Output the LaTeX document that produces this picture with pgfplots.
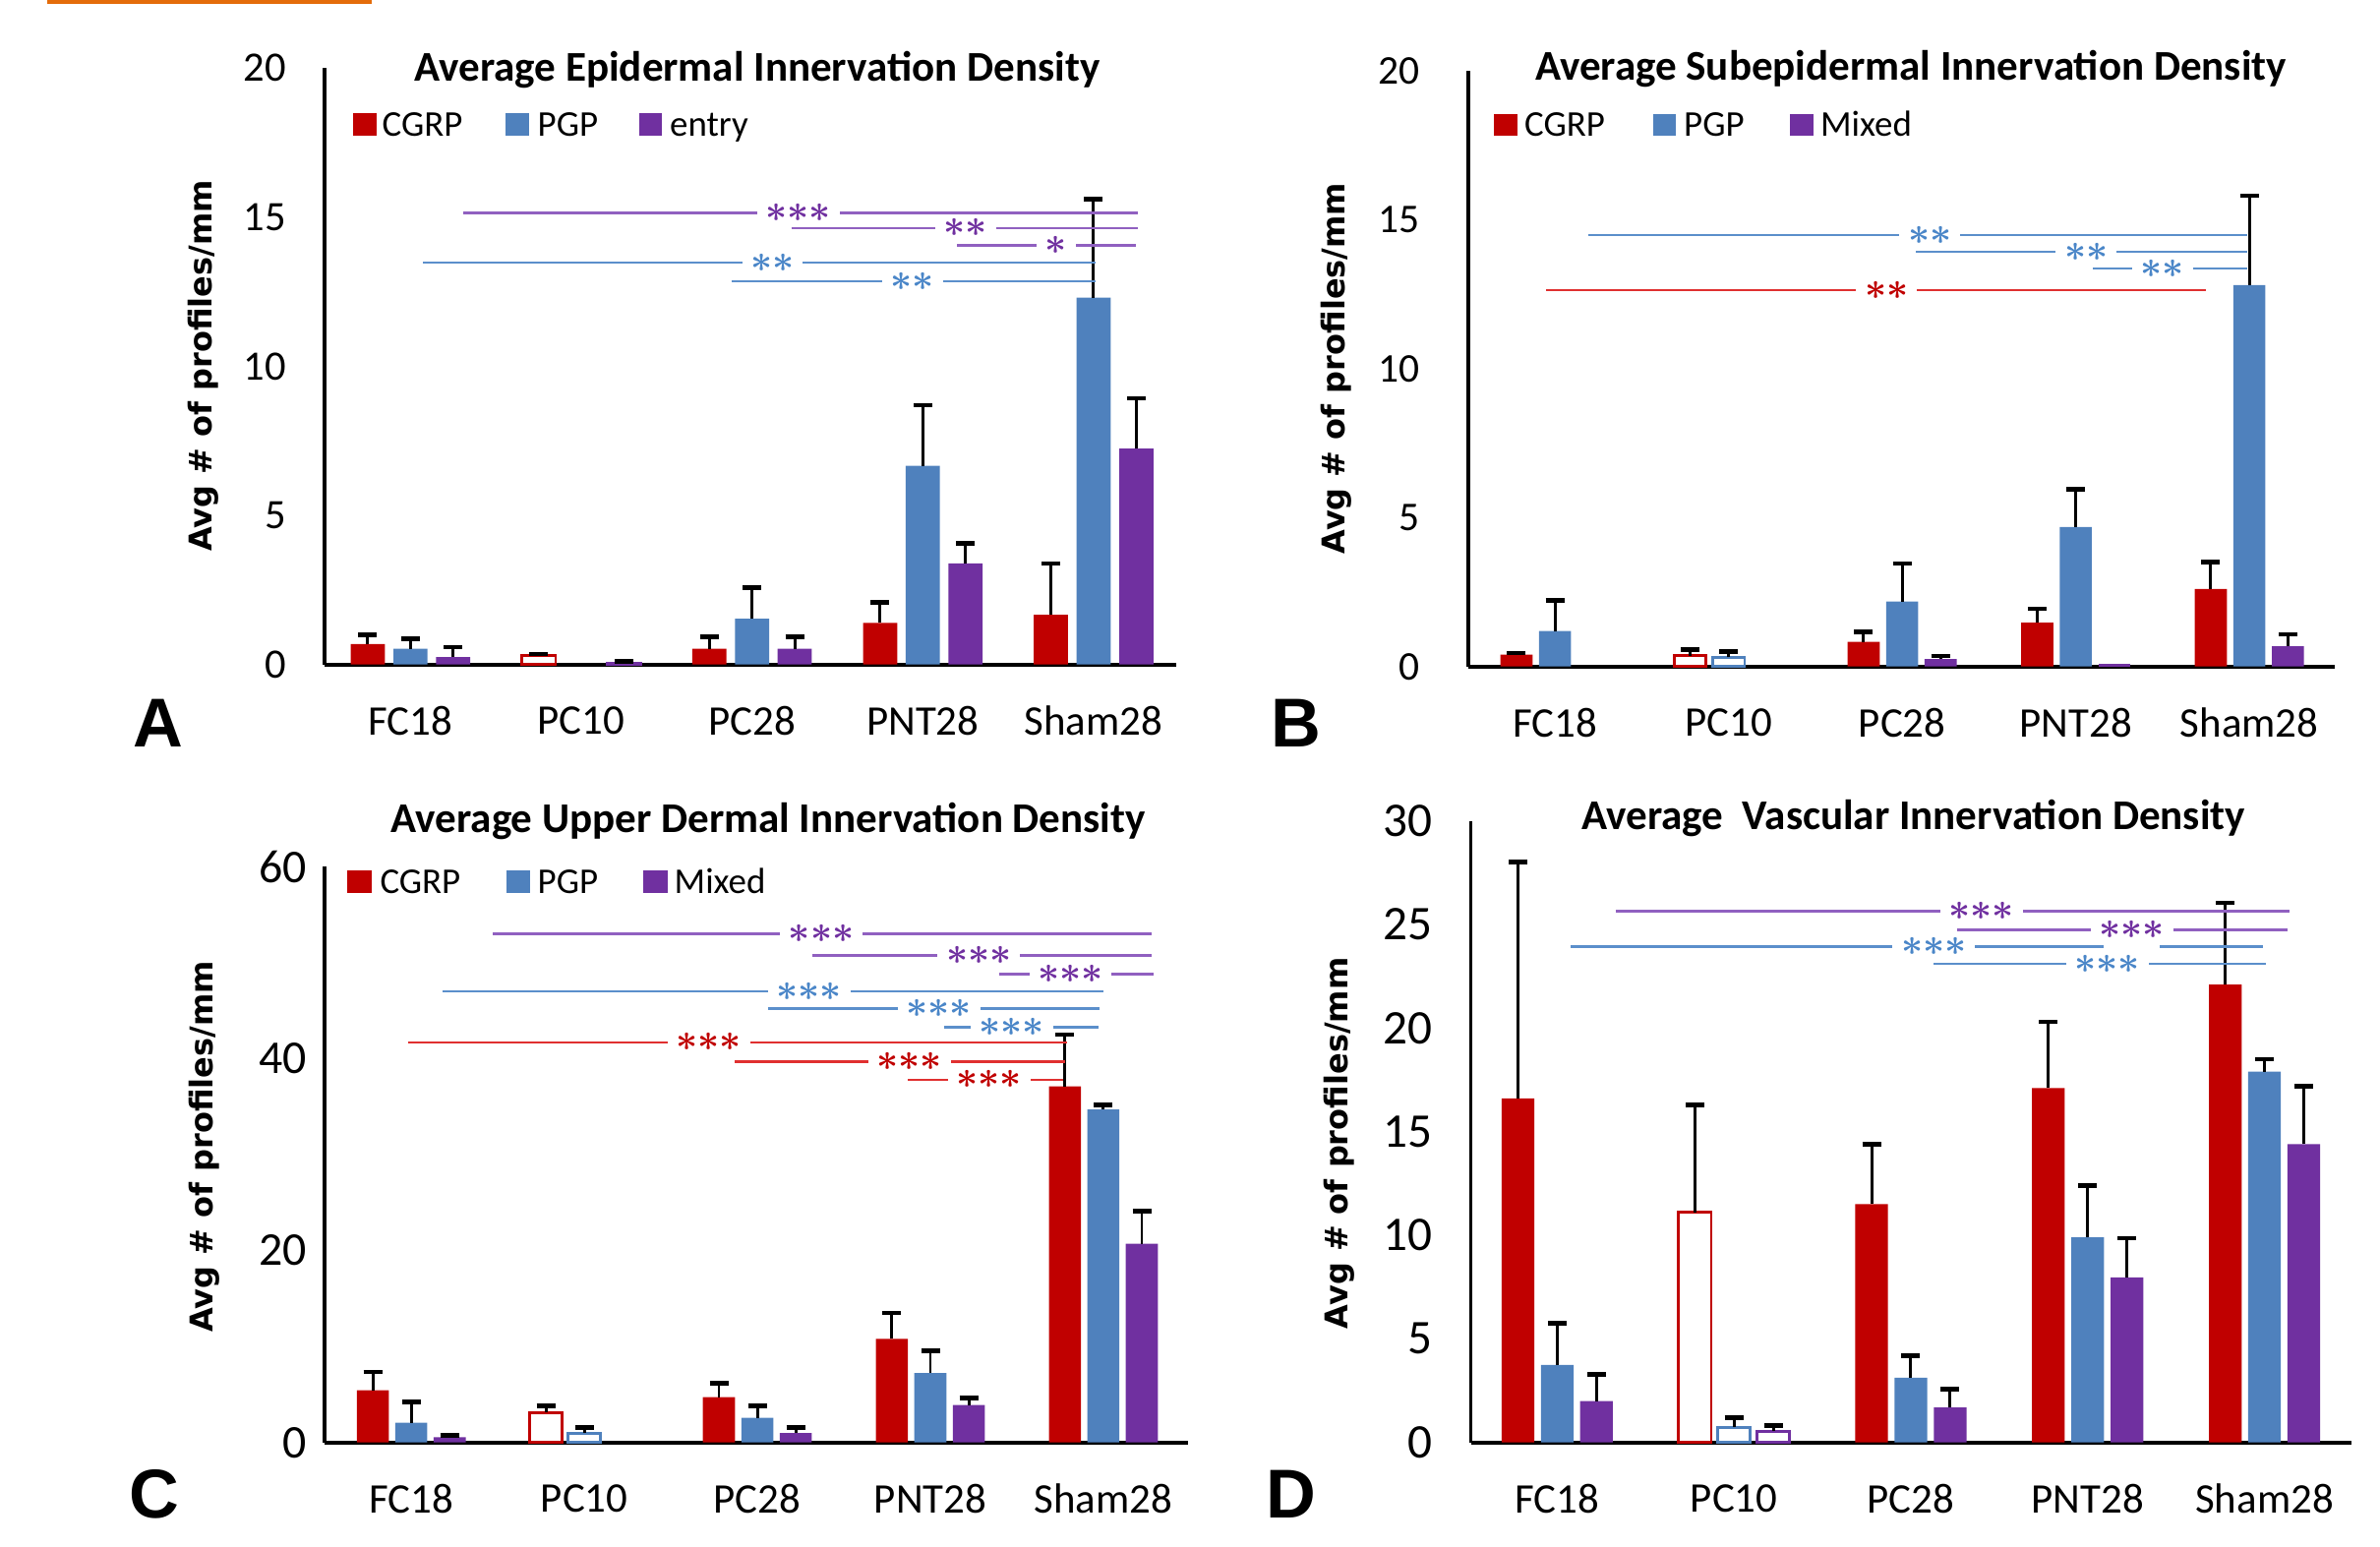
\documentclass[border=0pt]{standalone}
\usepackage{pgfplots}
\pgfplotsset{compat=1.18}
\usepackage{fontspec}
\setmainfont{Carlito}
\newfontfamily\labfont{DejaVu Sans}
\newfontfamily\letfont{Liberation Sans}

\definecolor{cgrp}{HTML}{C00000}
\definecolor{pgp}{HTML}{4F81BD}
\definecolor{mix}{HTML}{7030A0}
\definecolor{lred}{HTML}{E03030}
\definecolor{lblue}{HTML}{5B8FCB}
\definecolor{lpurp}{HTML}{9060C0}
\definecolor{sblue}{HTML}{4A86C8}
\definecolor{orangebar}{HTML}{E46C0A}

\pgfplotsset{
  panel/.style={
    scale only axis,
    ymin=0,
    axis x line*=bottom, axis y line*=left,
    axis line style={black, line width=1.1pt},
    major tick length=0pt,
    xtick={0,1,2,3,4},
    xticklabels={FC18,PC10,PC28,PNT28,Sham28},
    xticklabel style={anchor=center, yshift=-0.57cm, font=\fontsize{12.2}{14}\selectfont},
    yticklabel style={anchor=east, inner sep=0pt},
    /pgf/number format/assume math mode=true,
    clip=false,
  },
  eb/.style={
    /pgfplots/error bars/y dir=plus,
    /pgfplots/error bars/y explicit,
    /pgfplots/error bars/error bar style={black, line width=0.85pt},
    /pgfplots/error bars/error mark options={black, rotate=90, line width=1.3pt, mark size=0.095cm},
  },
}

% significance line: line colour, star colour, y, x from, x to, star x, stars
\newcommand{\sig}[7]{%
  \draw[#1, line width=0.7pt] (axis cs:#4,#3) -- (axis cs:#5,#3);
  \node[fill=white, inner xsep=2.5pt, inner ysep=0.5pt, text=#2,
    font=\boldmath\fontsize{10.5}{10.5}\selectfont] at (axis cs:#6,#3) {$#7$};}
\newcommand{\stt}{{\ast}{\ast}{\ast}}
\newcommand{\st}{{\ast}{\ast}}

\begin{document}
\begin{tikzpicture}[x=1cm,y=1cm]
\path[use as bounding box] (0,0) rectangle (24.2,15.72);
\fill[orangebar] (0.48,15.68) rectangle (3.78,15.72);

% ---------------- A ----------------
\begin{axis}[panel, at={(3.302cm,8.963cm)}, anchor=south west,
  width=8.658cm, height=6.065cm, xmin=-0.502, xmax=4.484,
  ymax=20, ytick={0,5,10,15,20},
  yticklabel style={xshift=-0.386cm, font=\fontsize{12.1}{14}\selectfont}]
\addplot[ybar, bar width=0.2, bar shift=0, fill=cgrp, draw=none, eb]
  coordinates {(-0.25,0.69) +- (0,0.31) (1.75,0.53) +- (0,0.40) (2.75,1.40) +- (0,0.68) (3.75,1.67) +- (0,1.72)};
\addplot[ybar, bar width=0.2, bar shift=0, fill=white, draw=cgrp, line width=0.8pt, eb]
  coordinates {(0.75,0.30) +- (0,0.06)};
\addplot[ybar, bar width=0.2, bar shift=0, fill=pgp, draw=none, eb]
  coordinates {(0,0.53) +- (0,0.33) (2,1.54) +- (0,1.04) (3,6.66) +- (0,2.03) (4,12.3) +- (0,3.3)};
\addplot[ybar, bar width=0.2, bar shift=0, fill=mix, draw=none, eb]
  coordinates {(0.25,0.25) +- (0,0.33) (2.25,0.53) +- (0,0.40) (3.25,3.39) +- (0,0.68) (4.25,7.24) +- (0,1.69)};
\addplot[ybar, bar width=0.2, bar shift=0, fill=white, draw=mix, line width=0.8pt, eb]
  coordinates {(1.25,0.05) +- (0,0.05)};
\sig{lpurp}{mix}{15.14}{0.31}{4.26}{2.27}{\stt}
\sig{lpurp}{mix}{14.64}{2.23}{4.26}{3.25}{\st}
\sig{lpurp}{mix}{14.06}{3.20}{4.25}{3.78}{\ast}
\sig{lblue}{sblue}{13.47}{0.075}{4.01}{2.12}{\st}
\sig{lblue}{sblue}{12.85}{1.88}{4.01}{2.94}{\st}
\end{axis}

% ---------------- B ----------------
\begin{axis}[panel, at={(14.932cm,8.943cm)}, anchor=south west,
  width=8.804cm, height=6.06cm, xmin=-0.498, xmax=4.49,
  ymax=20, ytick={0,5,10,15,20},
  yticklabel style={xshift=-0.487cm, font=\fontsize{11.8}{14}\selectfont}]
\addplot[ybar, bar width=0.185, bar shift=0, fill=cgrp, draw=none, eb]
  coordinates {(-0.222,0.40) +- (0,0.05) (1.778,0.83) +- (0,0.33) (2.778,1.47) +- (0,0.47) (3.778,2.60) +- (0,0.90)};
\addplot[ybar, bar width=0.185, bar shift=0, fill=white, draw=cgrp, line width=0.8pt, eb]
  coordinates {(0.778,0.36) +- (0,0.20)};
\addplot[ybar, bar width=0.185, bar shift=0, fill=pgp, draw=none, eb]
  coordinates {(0,1.19) +- (0,1.03) (2,2.18) +- (0,1.28) (3,4.68) +- (0,1.26) (4,12.8) +- (0,3.0)};
\addplot[ybar, bar width=0.185, bar shift=0, fill=white, draw=pgp, line width=0.8pt, eb]
  coordinates {(1,0.31) +- (0,0.19)};
\addplot[ybar, bar width=0.185, bar shift=0, fill=mix, draw=none, eb]
  coordinates {(2.222,0.25) +- (0,0.11) (4.222,0.68) +- (0,0.40)};
\addplot[ybar, bar width=0.185, bar shift=0, fill=mix, draw=none]
  coordinates {(3.222,0.08)};
\sig{lblue}{sblue}{14.48}{0.19}{3.99}{2.16}{\st}
\sig{lblue}{sblue}{13.92}{2.08}{3.99}{3.06}{\st}
\sig{lblue}{sblue}{13.35}{3.10}{3.99}{3.50}{\st}
\sig{lred}{cgrp}{12.63}{-0.05}{3.75}{1.91}{\st}
\end{axis}

% ---------------- C ----------------
\begin{axis}[panel, at={(3.302cm,1.053cm)}, anchor=south west,
  width=8.774cm, height=5.855cm, xmin=-0.5, xmax=4.487,
  ymax=60, ytick={0,20,40,60},
  yticklabel style={xshift=-0.175cm, font=\fontsize{13.6}{16}\selectfont}]
\addplot[ybar, bar width=0.185, bar shift=0, fill=cgrp, draw=none, eb]
  coordinates {(-0.222,5.44) +- (0,1.90) (1.778,4.73) +- (0,1.43) (2.778,10.8) +- (0,2.7) (3.778,37.1) +- (0,5.4)};
\addplot[ybar, bar width=0.185, bar shift=0, fill=white, draw=cgrp, line width=0.8pt, eb]
  coordinates {(0.778,3.13) +- (0,0.67)};
\addplot[ybar, bar width=0.185, bar shift=0, fill=pgp, draw=none, eb]
  coordinates {(0,2.05) +- (0,2.15) (2,2.57) +- (0,1.23) (3,7.24) +- (0,2.31) (4,34.7) +- (0,0.5)};
\addplot[ybar, bar width=0.185, bar shift=0, fill=white, draw=pgp, line width=0.8pt, eb]
  coordinates {(1,0.98) +- (0,0.56)};
\addplot[ybar, bar width=0.185, bar shift=0, fill=mix, draw=none, eb]
  coordinates {(0.222,0.56) +- (0,0.16) (2.222,0.98) +- (0,0.56) (3.222,3.9) +- (0,0.72) (4.222,20.7) +- (0,3.4)};
\sig{lpurp}{mix}{53.0}{0.47}{4.28}{2.37}{\stt}
\sig{lpurp}{mix}{50.77}{2.32}{4.28}{3.28}{\stt}
\sig{lpurp}{mix}{48.79}{3.40}{4.29}{3.81}{\stt}
\sig{lblue}{sblue}{47.0}{0.18}{4.0}{2.30}{\stt}
\sig{lblue}{sblue}{45.23}{2.06}{3.98}{3.05}{\stt}
\sig{lblue}{sblue}{43.25}{3.08}{3.97}{3.47}{\stt}
\sig{lred}{cgrp}{41.7}{-0.02}{3.79}{1.72}{\stt}
\sig{lred}{cgrp}{39.7}{1.87}{3.78}{2.88}{\stt}
\sig{lred}{cgrp}{37.8}{2.87}{3.77}{3.34}{\stt}
\end{axis}

% ---------------- D ----------------
\begin{axis}[panel, at={(14.955cm,1.053cm)}, anchor=south west,
  width=8.951cm, height=6.321cm, xmin=-0.489, xmax=4.49,
  ymax=30, ytick={0,5,10,15,20,25,30},
  yticklabel style={xshift=-0.386cm, font=\fontsize{14}{16}\selectfont}]
\addplot[ybar, bar width=0.185, bar shift=0, fill=cgrp, draw=none, eb]
  coordinates {(-0.222,16.6) +- (0,11.4) (1.778,11.5) +- (0,2.9) (2.778,17.1) +- (0,3.2) (3.778,22.1) +- (0,3.95)};
\addplot[ybar, bar width=0.185, bar shift=0, fill=white, draw=cgrp, line width=0.8pt, eb]
  coordinates {(0.778,11.1) +- (0,5.2)};
\addplot[ybar, bar width=0.185, bar shift=0, fill=pgp, draw=none, eb]
  coordinates {(0,3.74) +- (0,2.02) (2,3.12) +- (0,1.07) (3,9.9) +- (0,2.5) (4,17.9) +- (0,0.6)};
\addplot[ybar, bar width=0.185, bar shift=0, fill=white, draw=pgp, line width=0.8pt, eb]
  coordinates {(1,0.74) +- (0,0.47)};
\addplot[ybar, bar width=0.185, bar shift=0, fill=mix, draw=none, eb]
  coordinates {(0.222,2.0) +- (0,1.28) (2.222,1.69) +- (0,0.88) (3.222,7.97) +- (0,1.88) (4.222,14.4) +- (0,2.8)};
\addplot[ybar, bar width=0.185, bar shift=0, fill=white, draw=mix, line width=0.8pt, eb]
  coordinates {(1.222,0.55) +- (0,0.26)};
\sig{lpurp}{mix}{25.65}{0.33}{4.14}{2.40}{\stt}
\sig{lpurp}{mix}{24.74}{2.26}{4.13}{3.25}{\stt}
\draw[lblue, line width=0.7pt] (axis cs:3.41,23.94) -- (axis cs:3.99,23.94);
\sig{lblue}{sblue}{23.94}{0.075}{3.09}{2.13}{\stt}
\sig{lblue}{sblue}{23.09}{2.13}{4.01}{3.11}{\stt}
\end{axis}

% ---------------- titles ----------------
\begin{scope}[every node/.style={font=\bfseries\fontsize{12.25}{14}\selectfont, inner sep=0pt, anchor=base}]
\node at (7.70,14.893) {Average Epidermal Innervation Density};
\node at (19.43,14.903) {Average Subepidermal Innervation Density};
\node at (7.813,7.258) {Average Upper Dermal Innervation Density};
\node at (19.457,7.284) {Average\ \ Vascular Innervation Density};
\end{scope}

% ---------------- y labels ----------------
\begin{scope}[every node/.style={rotate=90, inner sep=0pt, font=\labfont\bfseries\fontsize{9.1}{11}\selectfont}]
\node at (2.065,12.0) {Avg \# of profiles/mm};
\node at (13.586,11.974) {Avg \# of profiles/mm};
\node at (2.08,4.06) {Avg \# of profiles/mm};
\node at (13.616,4.095) {Avg \# of profiles/mm};
\end{scope}

% ---------------- panel letters ----------------
\begin{scope}[every node/.style={inner sep=0pt, font=\letfont\bfseries\fontsize{20}{24}\selectfont}]
\node at (1.61,8.365) {A};
\node at (13.18,8.365) {B};
\node at (1.57,0.53) {C};
\node at (13.13,0.53) {D};
\end{scope}

% ---------------- legends ----------------
\begin{scope}[every node/.style={inner sep=0pt, anchor=base west, font=\fontsize{10.5}{12}\selectfont}]
\fill[cgrp] (3.59,14.34) rectangle (3.83,14.57);  \node at (3.88,14.336) {CGRP};
\fill[pgp]  (5.14,14.34) rectangle (5.38,14.57);  \node at (5.46,14.336) {PGP};
\fill[mix]  (6.50,14.34) rectangle (6.73,14.57);  \node at (6.805,14.336) {entry};
\fill[cgrp] (15.186,14.342) rectangle (15.433,14.557); \node at (15.495,14.331) {CGRP};
\fill[pgp]  (16.807,14.342) rectangle (17.038,14.557); \node at (17.115,14.331) {PGP};
\fill[mix]  (18.196,14.342) rectangle (18.443,14.557); \node at (18.504,14.331) {Mixed};
\fill[cgrp] (3.534,6.64) rectangle (3.78,6.87);  \node at (3.858,6.636) {CGRP};
\fill[pgp]  (5.15,6.64) rectangle (5.39,6.87);   \node at (5.46,6.636) {PGP};
\fill[mix]  (6.54,6.64) rectangle (6.79,6.87);   \node at (6.85,6.636) {Mixed};
\end{scope}
\end{tikzpicture}
\end{document}
